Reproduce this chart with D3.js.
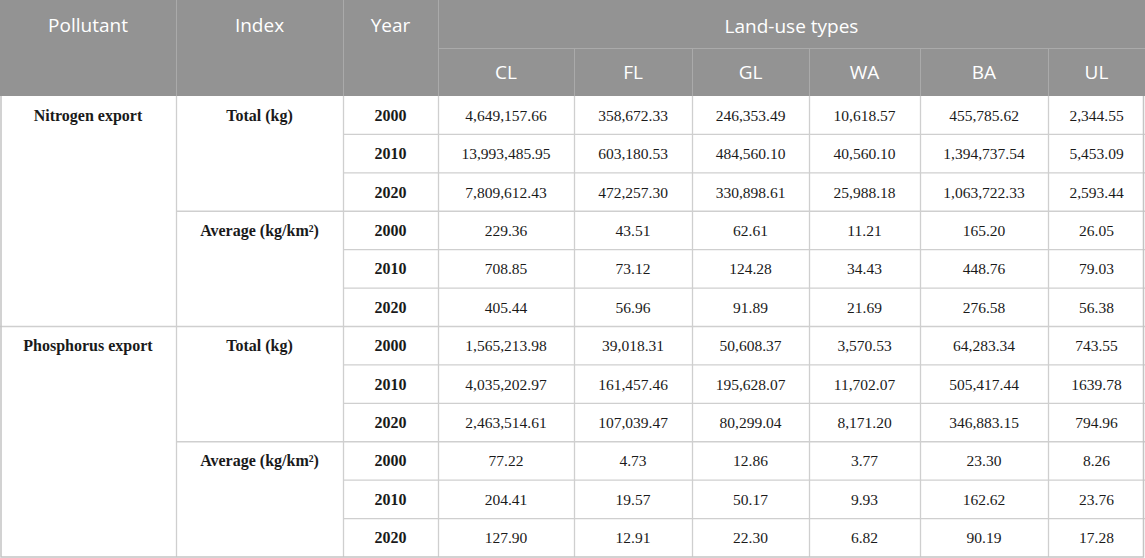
<!DOCTYPE html>
<html>
<head>
<meta charset="utf-8">
<script src="https://cdn.jsdelivr.net/npm/d3@7"></script>
<style>
  html, body { margin: 0; padding: 0; background: #fff; }
  svg { display: block; }
  .head { font-family: "Open Sans", sans-serif; font-size: 19px; fill: #fff; }
  .bold { font-family: "Liberation Serif", serif; font-size: 16px; font-weight: bold; fill: #1a1a1a; }
  .num { font-family: "Liberation Serif", serif; font-size: 15.5px; fill: #1a1a1a; }
</style>
</head>
<body>
<svg id="chart"></svg>
<script>
// table content
const pollutants = ["Nitrogen export", "Phosphorus export"];
const indices = ["Total (kg)", "Average (kg/km\u00b2)"];
const years = ["2000", "2010", "2020"];
const landUse = ["CL", "FL", "GL", "WA", "BA", "UL"];

const nitrogenTotal = [
  ["4,649,157.66", "358,672.33", "246,353.49", "10,618.57", "455,785.62", "2,344.55"],
  ["13,993,485.95", "603,180.53", "484,560.10", "40,560.10", "1,394,737.54", "5,453.09"],
  ["7,809,612.43", "472,257.30", "330,898.61", "25,988.18", "1,063,722.33", "2,593.44"]
];
const nitrogenAverage = [
  ["229.36", "43.51", "62.61", "11.21", "165.20", "26.05"],
  ["708.85", "73.12", "124.28", "34.43", "448.76", "79.03"],
  ["405.44", "56.96", "91.89", "21.69", "276.58", "56.38"]
];
const phosphorusTotal = [
  ["1,565,213.98", "39,018.31", "50,608.37", "3,570.53", "64,283.34", "743.55"],
  ["4,035,202.97", "161,457.46", "195,628.07", "11,702.07", "505,417.44", "1639.78"],
  ["2,463,514.61", "107,039.47", "80,299.04", "8,171.20", "346,883.15", "794.96"]
];
const phosphorusAverage = [
  ["77.22", "4.73", "12.86", "3.77", "23.30", "8.26"],
  ["204.41", "19.57", "50.17", "9.93", "162.62", "23.76"],
  ["127.90", "12.91", "22.30", "6.82", "90.19", "17.28"]
];

const blocks = [
  [nitrogenTotal, nitrogenAverage],
  [phosphorusTotal, phosphorusAverage]
];

const width = 1145, height = 558;
const headH = 96;
const colWidths = [176, 167, 95, 136, 118, 117, 111, 128, 97];
const colEdges = d3.cumsum([0].concat(colWidths));
const colLeft = i => colEdges[i];
const colMid = i => (colEdges[i] + colEdges[i + 1]) / 2;

// build flat rows
const rows = [];
blocks.forEach((blk, p) => {
  blk.forEach((vals, k) => {
    vals.forEach((v, y) => {
      rows.push({ p: p, k: k, y: y, vals: v });
    });
  });
});

const yScale = d3.scaleBand()
  .domain(d3.range(rows.length))
  .range([headH, 557]);
const rh = yScale.bandwidth();

const svg = d3.select("#chart").attr("width", width).attr("height", height);

// header
svg.append("rect")
  .attr("x", 0).attr("y", 0).attr("width", width).attr("height", headH)
  .attr("fill", "#939393");

const hLine = "#aaaaaa";
[1, 2, 3].forEach(i => {
  svg.append("line")
    .attr("x1", colLeft(i) + 0.5).attr("x2", colLeft(i) + 0.5)
    .attr("y1", 0).attr("y2", headH)
    .attr("stroke", hLine);
});
svg.append("line")
  .attr("x1", colLeft(3)).attr("x2", width)
  .attr("y1", 48.5).attr("y2", 48.5)
  .attr("stroke", hLine);
d3.range(4, 9).forEach(i => {
  svg.append("line")
    .attr("x1", colLeft(i) + 0.5).attr("x2", colLeft(i) + 0.5)
    .attr("y1", 48).attr("y2", headH)
    .attr("stroke", hLine);
});

["Pollutant", "Index", "Year"].forEach((t, i) => {
  svg.append("text").attr("class", "head")
    .attr("x", colMid(i)).attr("y", 25)
    .attr("text-anchor", "middle").attr("dominant-baseline", "central")
    .text(t);
});
svg.append("text").attr("class", "head")
  .attr("x", (colLeft(3) + width) / 2).attr("y", 26)
  .attr("text-anchor", "middle").attr("dominant-baseline", "central")
  .text("Land-use types");
landUse.forEach((t, i) => {
  svg.append("text").attr("class", "head")
    .attr("x", colMid(i + 3)).attr("y", 72)
    .attr("text-anchor", "middle").attr("dominant-baseline", "central")
    .text(t);
});

// body grid
const gLine = "#cfcfcf";
const grid = svg.append("g").attr("stroke", gLine).attr("stroke-width", 1.3);
rows.forEach((r, i) => {
  if (i === 0) return;
  const yy = yScale(i);
  let x0 = colLeft(2);
  if (r.y === 0) x0 = colLeft(1);
  if (r.y === 0 && r.k === 0) x0 = 0;
  grid.append("line")
    .attr("x1", x0).attr("x2", width)
    .attr("y1", yy).attr("y2", yy);
});
d3.range(1, 9).forEach(i => {
  grid.append("line")
    .attr("x1", colLeft(i) + 0.5).attr("x2", colLeft(i) + 0.5)
    .attr("y1", headH).attr("y2", 557);
});
svg.append("path")
  .attr("d", `M1,${headH}V557H1143.5V${headH}`)
  .attr("fill", "none").attr("stroke", "#c4c4c4").attr("stroke-width", 1.5);

// body text
const body = svg.append("g");
rows.forEach((r, i) => {
  const cy = yScale(i) + rh / 2;
  if (r.k === 0 && r.y === 0) {
    body.append("text").attr("class", "bold")
      .attr("x", colMid(0)).attr("y", cy)
      .attr("text-anchor", "middle").attr("dominant-baseline", "central")
      .text(pollutants[r.p]);
  }
  if (r.y === 0) {
    body.append("text").attr("class", "bold")
      .attr("x", colMid(1)).attr("y", cy)
      .attr("text-anchor", "middle").attr("dominant-baseline", "central")
      .text(indices[r.k]);
  }
  body.append("text").attr("class", "bold")
    .attr("x", colMid(2)).attr("y", cy)
    .attr("text-anchor", "middle").attr("dominant-baseline", "central")
    .text(years[r.y]);
  r.vals.forEach((v, j) => {
    body.append("text").attr("class", "num")
      .attr("x", colMid(j + 3)).attr("y", cy)
      .attr("text-anchor", "middle").attr("dominant-baseline", "central")
      .text(v);
  });
});
</script>
</body>
</html>
